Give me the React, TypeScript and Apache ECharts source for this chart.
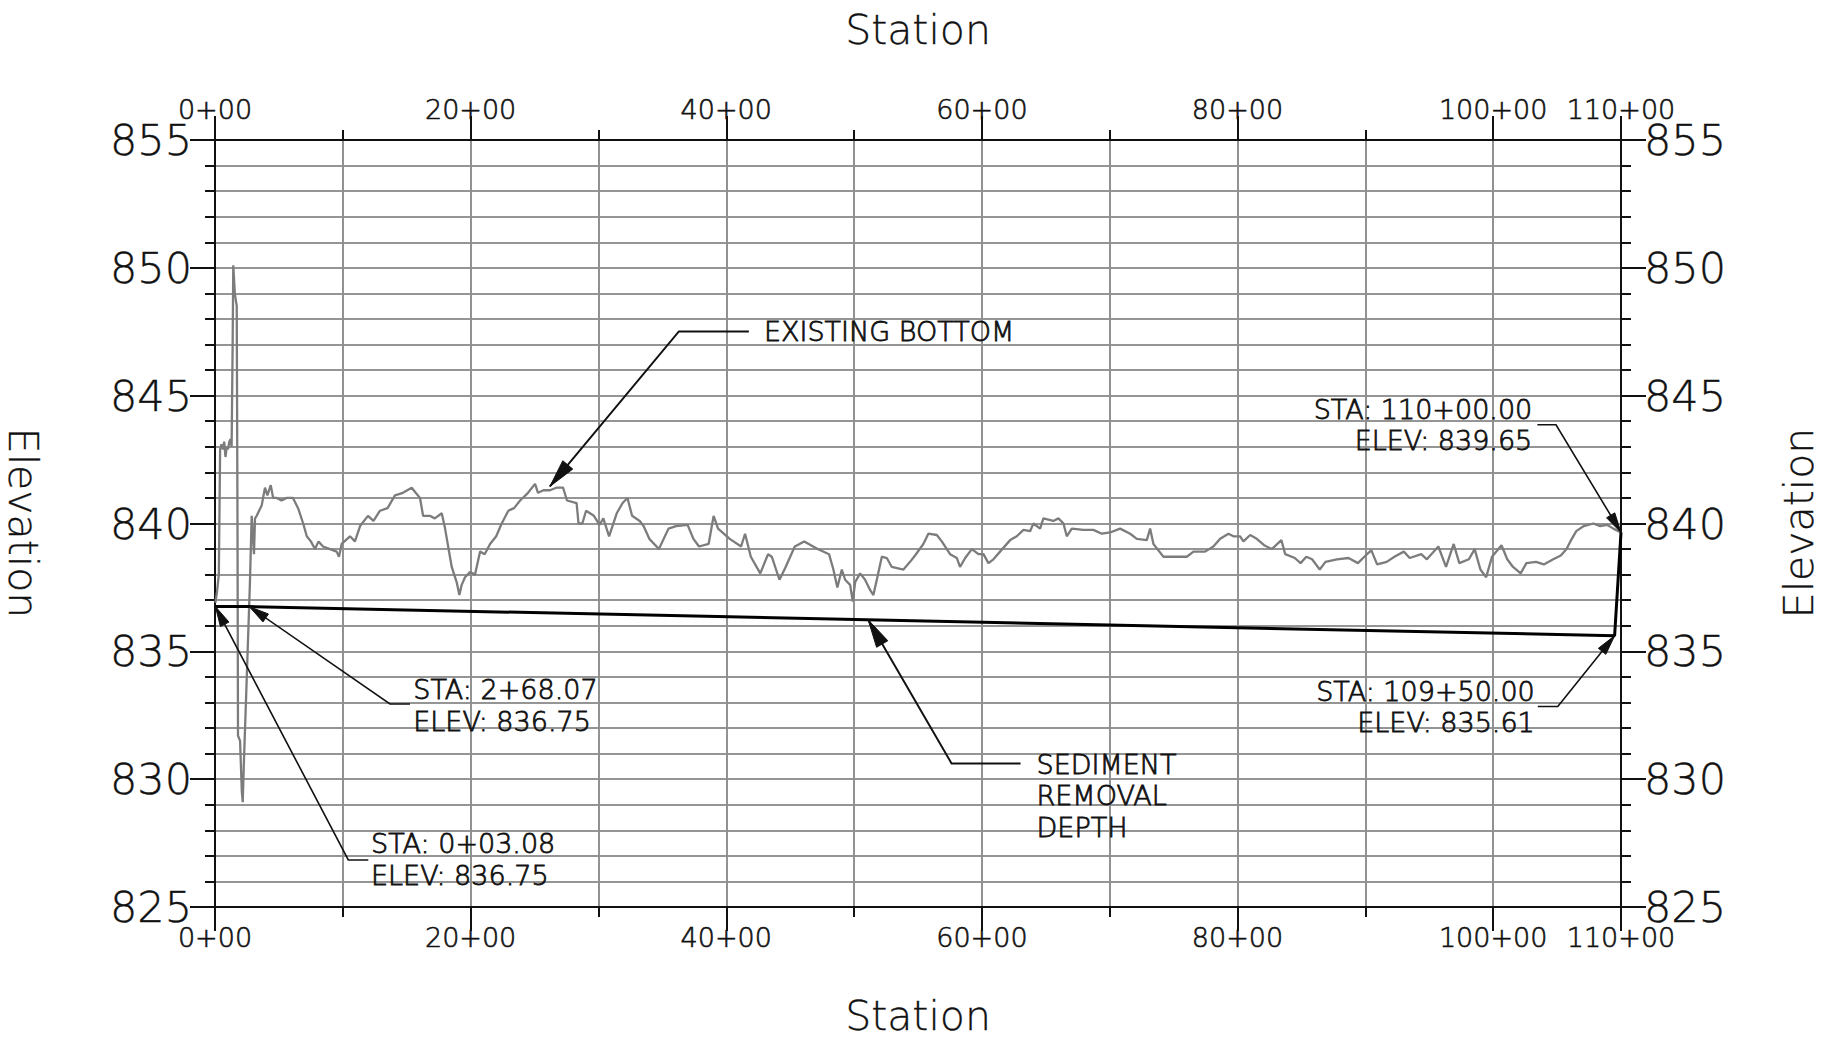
import { useEffect, useRef } from "react";
import * as echarts from "echarts";

// ---- data (stations in hundreds of feet, elevations in feet) ----
const profileStations = [
  0.03, 0.15, 0.3, 0.4, 0.5, 0.62, 0.72, 0.82, 0.92, 1.02, 1.12, 1.22, 1.3, 1.38, 1.43, 1.55, 1.7, 1.76,
  1.8, 1.96, 2.1, 2.17, 2.25, 2.48, 2.74, 2.87, 2.97, 3.05, 3.13, 3.26, 3.45, 3.65, 3.91, 4.1, 4.36, 4.55,
  4.83, 5.2, 5.6, 6.1, 6.5, 6.9, 7.18, 7.5, 7.82, 8.1, 8.45, 9.0, 9.52, 9.7, 9.91, 10.56, 10.95, 11.35,
  11.97, 12.4, 12.91, 13.5, 14.08, 14.7, 15.39, 15.7, 16.04, 16.28, 16.8, 17.2, 17.74, 18.0, 18.52, 18.91,
  19.12, 19.3, 19.56, 19.95, 20.34, 20.74, 21.1, 21.52, 22.0, 22.43, 22.95, 23.4, 23.87, 24.49, 25.04,
  25.27, 25.7, 26.21, 26.7, 27.23, 27.54, 28.29, 28.44, 28.74, 29.03, 29.64, 30.09, 30.38, 30.83, 31.43,
  31.89, 32.27, 32.63, 33.23, 33.53, 33.98, 34.73, 35.48, 36.07, 36.97, 37.43, 37.87, 38.62, 39.01, 39.36,
  40.27, 41.16, 41.47, 41.92, 42.66, 43.27, 43.56, 44.16, 44.6, 45.36, 46.1, 47.15, 48.04, 48.38, 48.69,
  49.04, 49.3, 49.69, 49.9, 50.08, 50.47, 50.86, 51.25, 51.51, 51.82, 52.17, 52.56, 52.95, 53.86, 54.38,
  54.77, 55.42, 55.81, 56.47, 56.86, 57.51, 58.04, 58.29, 58.69, 59.21, 59.73, 60.12, 60.51, 60.9, 61.42,
  62.21, 62.73, 63.25, 63.77, 64.03, 64.55, 64.81, 65.59, 65.99, 66.38, 66.64, 67.03, 67.94, 68.72, 69.38,
  70.03, 70.81, 71.6, 72.12, 72.9, 73.16, 73.42, 73.81, 74.2, 75.25, 76.03, 76.55, 77.46, 78.11, 78.64,
  79.29, 79.68, 80.2, 80.46, 80.99, 81.5, 82.08, 82.68, 83.43, 83.73, 84.48, 84.93, 85.38, 85.83, 86.43,
  86.88, 87.78, 88.68, 89.42, 90.02, 90.47, 90.92, 91.67, 92.27, 93.01, 93.47, 94.37, 94.81, 95.71, 96.31,
  96.91, 97.35, 98.1, 98.55, 99.0, 99.45, 99.91, 100.65, 101.1, 101.55, 102.15, 102.6, 103.35, 103.96,
  104.7, 105.29, 105.74, 106.04, 106.5, 107.09, 107.84, 108.37, 108.9, 109.4, 110.0,
];
const profileElevations = [
  836.9, 837.3, 838.0, 842.9, 843.1, 842.9, 843.2, 842.6, 843.0, 842.9, 843.2, 843.3, 843.0, 847.0, 850.1,
  849.0, 848.5, 840.0, 831.7, 831.5, 829.5, 829.1, 830.5, 833.9, 837.8, 840.3, 839.5, 838.8, 840.2, 840.3,
  840.5, 840.7, 841.4, 841.1, 841.5, 841.0, 841.0, 840.9, 841.0, 841.0, 840.6, 840.0, 839.5, 839.3, 839.0,
  839.3, 839.1, 839.0, 838.9, 838.7, 839.2, 839.5, 839.3, 839.9, 840.3, 840.1, 840.5, 840.6, 841.1, 841.2,
  841.4, 841.2, 841.0, 840.3, 840.3, 840.2, 840.4, 839.8, 838.3, 837.7, 837.2, 837.6, 837.9, 838.1, 838.0,
  838.9, 838.8, 839.2, 839.5, 840.0, 840.5, 840.6, 840.9, 841.2, 841.55, 841.2, 841.3, 841.3, 841.4, 841.4,
  840.9, 840.8, 840.0, 840.0, 840.5, 840.3, 839.95, 840.2, 839.5, 840.4, 840.8, 841.0, 840.3, 840.1, 839.9,
  839.4, 839.0, 839.8, 839.9, 839.95, 839.4, 839.1, 839.2, 840.3, 839.8, 839.4, 839.1, 839.6, 838.7, 838.05,
  838.8, 838.7, 837.8, 838.25, 839.1, 839.3, 839.0, 838.8, 838.2, 837.5, 838.2, 837.8, 837.6, 836.95, 837.7,
  838.05, 837.8, 837.4, 837.2, 837.9, 838.7, 838.65, 838.3, 838.2, 838.5, 838.75, 839.2, 839.6, 839.55,
  839.3, 838.8, 838.65, 838.3, 838.65, 839.0, 838.8, 838.8, 838.45, 838.6, 838.9, 839.35, 839.5, 839.75,
  839.7, 840.0, 839.8, 840.2, 840.1, 840.2, 840.0, 839.5, 839.8, 839.75, 839.75, 839.6, 839.65, 839.8,
  839.6, 839.4, 839.35, 839.8, 839.2, 838.95, 838.7, 838.7, 838.7, 838.9, 838.9, 839.1, 839.4, 839.6, 839.5,
  839.5, 839.3, 839.55, 839.4, 839.15, 839.0, 839.35, 838.8, 838.65, 838.45, 838.7, 838.6, 838.2, 838.5,
  838.6, 838.65, 838.45, 838.75, 838.95, 838.4, 838.5, 838.7, 838.9, 838.65, 838.8, 838.6, 839.1, 838.3,
  839.2, 838.45, 838.6, 839.0, 838.2, 837.9, 838.7, 839.15, 838.6, 838.3, 838.05, 838.45, 838.5, 838.4,
  838.6, 838.75, 839.0, 839.3, 839.7, 839.9, 840.0, 839.9, 839.95, 839.8, 839.65,
];

const sedimentStations = [0.0308, 2.6807, 109.5, 110.0];
const sedimentElevations = [836.75, 836.75, 835.61, 839.65];

const stationMin = 0;
const stationMax = 110;
const elevationMin = 825;
const elevationMax = 855;

// annotation texts and their anchor points (station, elevation)
const annotationTexts = [
  ["EXISTING BOTTOM"],
  ["SEDIMENT", "REMOVAL", "DEPTH"],
  ["STA: 2+68.07", "ELEV: 836.75"],
  ["STA: 0+03.08", "ELEV: 836.75"],
  ["STA: 110+00.00", "ELEV: 839.65"],
  ["STA: 109+50.00", "ELEV: 835.61"],
];
const annotationAnchorStations = [26.2, 51.1, 2.6807, 0.0308, 110.0, 109.5];
const annotationAnchorElevations = [841.45, null, 836.75, 836.75, 839.65, 835.61];

// ---- layout (pixels) ----
const annotationLayout = [
  { elbow: [129, -155], shelf: 70, textDx: 85, align: "left", lineDy: [0], big: true },
  { elbow: [83.4, 143.6], shelf: 69, textDx: 85, align: "left", lineDy: [0.7, 32.4, 64.1], big: true },
  { elbow: [140.7, 97.4], shelf: 20, textDx: 23.3, align: "left", lineDy: [-14, 17.7], big: false },
  { elbow: [132.9, 253.4], shelf: 20, textDx: 22.7, align: "left", lineDy: [-16, 16], big: false },
  { elbow: [-65, -107.7], shelf: -18.6, textDx: -23.7, align: "right", lineDy: [-15.2, 16.2], big: false },
  { elbow: [-56.8, 70.8], shelf: -20, textDx: -23, align: "right", lineDy: [-14.6, 16], big: false },
];

const FONT = "'DejaVu Sans ExtraLight', 'DejaVu Sans', 'Liberation Sans', sans-serif";
const WEIGHT = 200;
const INK = "#111111";
const GRID = "#8e8e8e";

function sedimentElevationAt(s: number): number {
  for (let i = 1; i < sedimentStations.length; i++) {
    if (s <= sedimentStations[i]) {
      const t = (s - sedimentStations[i - 1]) / (sedimentStations[i] - sedimentStations[i - 1]);
      return sedimentElevations[i - 1] + t * (sedimentElevations[i] - sedimentElevations[i - 1]);
    }
  }
  return sedimentElevations[sedimentElevations.length - 1];
}

const stationLabel = (v: number) => `${v}+00`;

function makeXAxis(position: "top" | "bottom", major: boolean) {
  return {
    type: "value",
    position,
    min: stationMin,
    max: stationMax,
    interval: major ? 20 : 10,
    axisLine: { show: !major, onZero: false, lineStyle: { color: INK, width: 2 } },
    axisTick: { show: true, length: major ? 24 : 10, lineStyle: { color: INK, width: 2 } },
    axisLabel: major
      ? {
          show: true,
          margin: 17,
          fontSize: 27,
          fontFamily: FONT,
          fontWeight: WEIGHT,
          color: INK,
          textBorderColor: INK,
          textBorderWidth: 0.6,
          showMinLabel: true,
          showMaxLabel: true,
          formatter: (v: number) => stationLabel(v),
        }
      : { show: false },
    splitLine: major ? { show: false } : { show: true, lineStyle: { color: GRID, width: 1.6 } },
  };
}

function makeYAxis(position: "left" | "right", major: boolean) {
  return {
    type: "value",
    position,
    min: elevationMin,
    max: elevationMax,
    interval: major ? 5 : 1,
    axisLine: { show: !major, onZero: false, lineStyle: { color: INK, width: 2 } },
    axisTick: { show: true, length: major ? 25 : 10, lineStyle: { color: INK, width: 2 } },
    axisLabel: major
      ? {
          show: true,
          margin: 23,
          fontSize: 43,
          fontFamily: FONT,
          fontWeight: WEIGHT,
          color: INK,
          textBorderColor: INK,
          textBorderWidth: 0.4,
          showMinLabel: true,
          showMaxLabel: true,
        }
      : { show: false },
    splitLine: major ? { show: false } : { show: true, lineStyle: { color: GRID, width: 1.6 } },
  };
}

export default function App() {
  const ref = useRef<HTMLDivElement>(null);

  useEffect(() => {
    document.body.style.margin = "0";
    const chart = echarts.init(ref.current!, null, { renderer: "svg" });

    const option: any = {
      animation: false,
      backgroundColor: "#ffffff",
      grid: { left: 215, right: 207, top: 140, bottom: 133, outerBoundsMode: "none", containLabel: false },
      xAxis: [makeXAxis("bottom", false), makeXAxis("bottom", true), makeXAxis("top", false), makeXAxis("top", true)],
      yAxis: [makeYAxis("left", false), makeYAxis("left", true), makeYAxis("right", false), makeYAxis("right", true)],
      series: [
        {
          name: "Existing Bottom",
          type: "line",
          xAxisIndex: 0,
          yAxisIndex: 0,
          symbol: "none",
          data: profileStations.map((s, i) => [s, profileElevations[i]]),
          lineStyle: { color: "#7c7c7c", width: 2.3 },
          z: 3,
        },
        {
          name: "Sediment Removal Depth",
          type: "line",
          xAxisIndex: 0,
          yAxisIndex: 0,
          symbol: "none",
          data: sedimentStations.map((s, i) => [s, sedimentElevations[i]]),
          lineStyle: { color: "#000000", width: 3 },
          z: 4,
        },
      ],
    };
    chart.setOption(option);

    const toPx = (s: number, e: number) =>
      chart.convertToPixel({ xAxisIndex: 0, yAxisIndex: 0 }, [s, e]) as number[];

    const graphics: any[] = [];
    const textStyle = (size: number, align: string, border = 0) => ({
      fontSize: size,
      fontFamily: FONT,
      fontWeight: WEIGHT,
      fill: INK,
      stroke: border > 0 ? INK : undefined,
      lineWidth: border,
      align,
      verticalAlign: "middle",
    });

    annotationTexts.forEach((lines, i) => {
      const lay = annotationLayout[i];
      const s = annotationAnchorStations[i];
      const eVal = annotationAnchorElevations[i];
      const e = eVal == null ? sedimentElevationAt(s) : eVal;
      const [tx, ty] = toPx(s, e);
      const ex = tx + lay.elbow[0];
      const ey = ty + lay.elbow[1];
      const lw = lay.big ? 2 : 1.6;
      graphics.push({
        type: "polyline",
        z: 20,
        shape: { points: [[tx, ty], [ex, ey], [ex + lay.shelf, ey]] },
        style: { stroke: INK, lineWidth: lw, fill: "none" },
      });
      // arrow head
      const dx = ex - tx;
      const dy = ey - ty;
      const len = Math.hypot(dx, dy);
      const ux = dx / len;
      const uy = dy / len;
      const L = lay.big ? 28 : 20;
      const W = lay.big ? 6.5 : 4.8;
      const bx = tx + ux * L;
      const by = ty + uy * L;
      graphics.push({
        type: "polygon",
        z: 21,
        shape: {
          points: [
            [tx, ty],
            [bx - uy * W, by + ux * W],
            [bx + uy * W, by - ux * W],
          ],
        },
        style: { fill: INK, stroke: INK, lineWidth: 1 },
      });
      lines.forEach((t, j) => {
        graphics.push({
          type: "text",
          z: 22,
          x: ex + lay.textDx,
          y: ey + lay.lineDy[j],
          style: { text: t, ...textStyle(27, lay.align, 0.8) },
        });
      });
    });

    // axis titles
    graphics.push({ type: "text", z: 22, x: 918, y: 30, style: { text: "Station", ...textStyle(41, "center", 0.3) } });
    graphics.push({ type: "text", z: 22, x: 918, y: 1016, style: { text: "Station", ...textStyle(41, "center", 0.3) } });
    graphics.push({
      type: "text",
      z: 22,
      x: 23,
      y: 523,
      rotation: -Math.PI / 2,
      style: { text: "Elevation", ...textStyle(41, "center", 0.3) },
    });
    graphics.push({
      type: "text",
      z: 22,
      x: 1799,
      y: 523,
      rotation: Math.PI / 2,
      style: { text: "Elevation", ...textStyle(41, "center", 0.3) },
    });

    chart.setOption({ graphic: { elements: graphics } });

    return () => {
      chart.dispose();
    };
  }, []);

  return <div ref={ref} style={{ width: 1828, height: 1040 }} />;
}
